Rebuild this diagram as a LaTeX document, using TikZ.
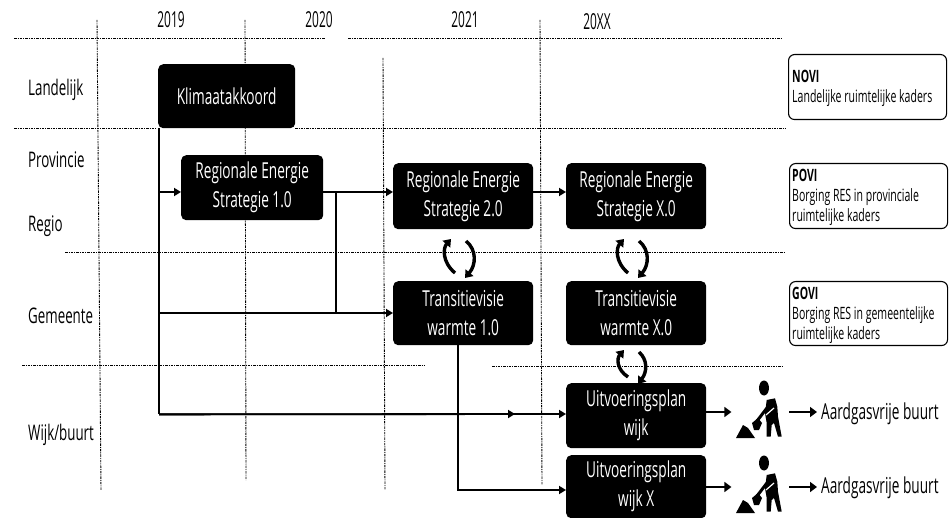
\documentclass[tikz,border=0pt]{standalone}
\usepackage{fontspec}
\setmainfont[FakeStretch=0.62]{Open Sans}
\newfontfamily\yearfont[FakeStretch=0.54]{Open Sans}
\usetikzlibrary{arrows.meta}
\tikzset{
  grid line/.style={black,line width=0.9pt,dash pattern=on 2.5pt off 1pt on 1pt off 1pt},
  blackbox/.style={fill=black,text=white,rounded corners=5pt,inner sep=0pt,align=center,
    font=\fontsize{22}{29}\selectfont,anchor=north west},
  kader/.style={draw=black,line width=1.1pt,rounded corners=6pt,inner sep=0pt,
    minimum width=158pt,anchor=north west},
  kadertext/.style={inner sep=0pt,align=left,anchor=west,font=\fontsize{17}{20}\selectfont},
  rowlabel/.style={inner sep=0pt,anchor=west,font=\fontsize{21.5}{22}\selectfont},
  yearlabel/.style={inner sep=0pt,font=\yearfont\fontsize{22}{22}\selectfont},
  flow/.style={black,line width=1.8pt,-{Triangle[length=7pt,width=8pt]}},
  outflow/.style={black,line width=2.4pt,-{Triangle[length=7pt,width=10pt]}},
  trunk/.style={black,line width=1.8pt},
  cycle arrow/.style={black,line width=3.4pt,-{Triangle[length=7pt,width=10pt]}},
  result/.style={inner sep=0pt,anchor=west,font=\fontsize{22}{24}\selectfont},
}
\newcommand{\digger}[2]{%
  \begin{scope}[shift={(#1,#2)}]
    \fill[black] (64,-2) ellipse (5pt and 7.5pt);
    \draw[black,line width=3pt] (70,14) -- (57,31);
    \fill[black] (66.7,10) -- (75,8.3) -- (77.3,16.7) -- (78,26.7) -- (81.7,46.7) -- (78,46.7)
      -- (74,33) -- (71.7,35) -- (70.7,46.7) -- (66.7,46.7) -- (66.7,33) -- (65,23.3) -- cycle;
    \draw[white,line width=1.2pt] (74,18) -- (66,25);
    \fill[black] (52,33) -- (58,28) -- (62,33) -- (59,40) -- (54,40) -- cycle;
    \fill[black] (36,48) -- (43,35) -- (48,38) -- (55,48) -- cycle;
  \end{scope}}
\begin{document}
\begin{tikzpicture}[x=1pt,y=-1pt]
\useasboundingbox (0,0) rectangle (950,518);
\fill[white] (0,0) rectangle (950,518);

% grid
\draw[grid line] (14,38) -- (325,38) (348,38) -- (781,38);
\draw[grid line] (14,128) -- (157,128) (295,128) -- (785,128);
\draw[grid line] (65,252) -- (785,252);
\draw[grid line] (22,365) -- (425,365) (492,366) -- (783,366);
\draw[grid line] (97,20) -- (101,490);
\draw[grid line] (245,20) -- (246,480);
\draw[grid line] (383,58) -- (385,490);
\draw[grid line] (540,20) -- (542,485);

% years and rows
\node[yearlabel] (y2019) at (171,20) {2019};
\node[yearlabel] (y2020) at (319,20) {2020};
\node[yearlabel] (y2021) at (465,20) {2021};
\node[yearlabel] (y20xx) at (597,22) {20XX};
\node[rowlabel] (landelijk) at (28,90) {Landelijk};
\node[rowlabel] (provincie) at (28,160) {Provincie};
\node[rowlabel] (regio) at (28,226) {Regio};
\node[rowlabel] (gemeente) at (28,316) {Gemeente};
\node[rowlabel] (wijk) at (28,435) {Wijk/buurt};

% boxes
\node[blackbox,minimum width=137pt,minimum height=64pt] (klimaat) at (158,64) {Klimaatakkoord};
\node[blackbox,minimum width=142pt,minimum height=65pt] (res1) at (181,155) {Regionale Energie\\Strategie 1.0};
\node[blackbox,minimum width=140pt,minimum height=66pt] (res2) at (393,163) {Regionale Energie\\Strategie 2.0};
\node[blackbox,minimum width=140pt,minimum height=66pt] (resx) at (566,163) {Regionale Energie\\Strategie X.0};
\node[blackbox,minimum width=140pt,minimum height=64pt] (tv1) at (393,281) {Transitievisie\\warmte 1.0};
\node[blackbox,minimum width=140pt,minimum height=64pt] (tvx) at (566,281) {Transitievisie\\warmte X.0};
\node[blackbox,minimum width=140pt,minimum height=65pt] (uit) at (566,383) {Uitvoeringsplan\\wijk};
\node[blackbox,minimum width=140pt,minimum height=63pt] (uitx) at (566,455) {Uitvoeringsplan\\wijk X};

% side boxes
\node[kader,minimum height=65pt] (novi) at (788,54) {};
\node[kader,minimum height=65pt] (povi) at (789,163) {};
\node[kader,minimum height=64pt] (govi) at (789,281) {};
\node[kadertext] (novit) at (792,88.5) {\textbf{NOVI}\\Landelijke ruimtelijke kaders};
\node[kadertext] (povit) at (792,197) {\textbf{POVI}\\Borging RES in provinciale\\ruimtelijke kaders};
\node[kadertext] (govit) at (792,315) {\textbf{GOVI}\\Borging RES in gemeentelijke\\ruimtelijke kaders};

% connector rails
\coordinate (rail) at (0,192);
\coordinate (railg) at (0,313);
\coordinate (railw) at (0,414);
\coordinate (railx) at (0,490);
\coordinate (split) at (336,192);
\coordinate (drop) at (458,0);
\coordinate (out1) at (0,412);
\coordinate (out2) at (0,487);

% connectors
\draw[trunk] (klimaat.south west) ++(1,0) -- ++(0,286) coordinate (corner);
\draw[flow] (corner) -- (515,414);
\draw[flow] (corner) -- (uit.west |- railw);
\draw[flow] (klimaat.south west |- rail) ++(1,0) -- (res1.west |- rail);
\draw[flow] (res1.east |- rail) -- (res2.west |- rail);
\draw[flow] (res2.east |- rail) -- (resx.west |- rail);
\draw[trunk] (split) -- (split |- railg);
\draw[flow] (klimaat.south west |- railg) ++(1,0) -- (tv1.west |- railg);
\draw[flow] (drop |- tv1.south) -- (drop |- railx) -- (uitx.west |- railx);
\draw[outflow] (uit.east |- out1) -- ++(25,0);
\draw[outflow] (uitx.east |- out2) -- ++(25,0);

% diggers
\digger{700}{390}
\digger{700}{465}

% results
\node[result] (aard1) at (821,414) {Aardgasvrije buurt};
\node[result] (aard2) at (821,488) {Aardgasvrije buurt};
\coordinate (res1start) at (789,412);
\coordinate (res2start) at (789,487);
\draw[outflow,shorten >=4pt] (res1start) -- (aard1.west |- res1start);
\draw[outflow,shorten >=4pt] (res2start) -- (aard2.west |- res2start);

% cycle arrows
\draw[cycle arrow] (455,273) .. controls (442,262) and (443,248) .. (451,239);
\draw[cycle arrow] (466,241) .. controls (477,250) and (476,265) .. (465,278);
\draw[cycle arrow] (628,273) .. controls (615,262) and (616,248) .. (624,239);
\draw[cycle arrow] (639,241) .. controls (650,250) and (649,265) .. (638,278);
\draw[cycle arrow] (628,377) .. controls (616,369) and (617,358) .. (624,350);
\draw[cycle arrow] (639,352) .. controls (648,360) and (647,372) .. (638,384);
\end{tikzpicture}
\end{document}
